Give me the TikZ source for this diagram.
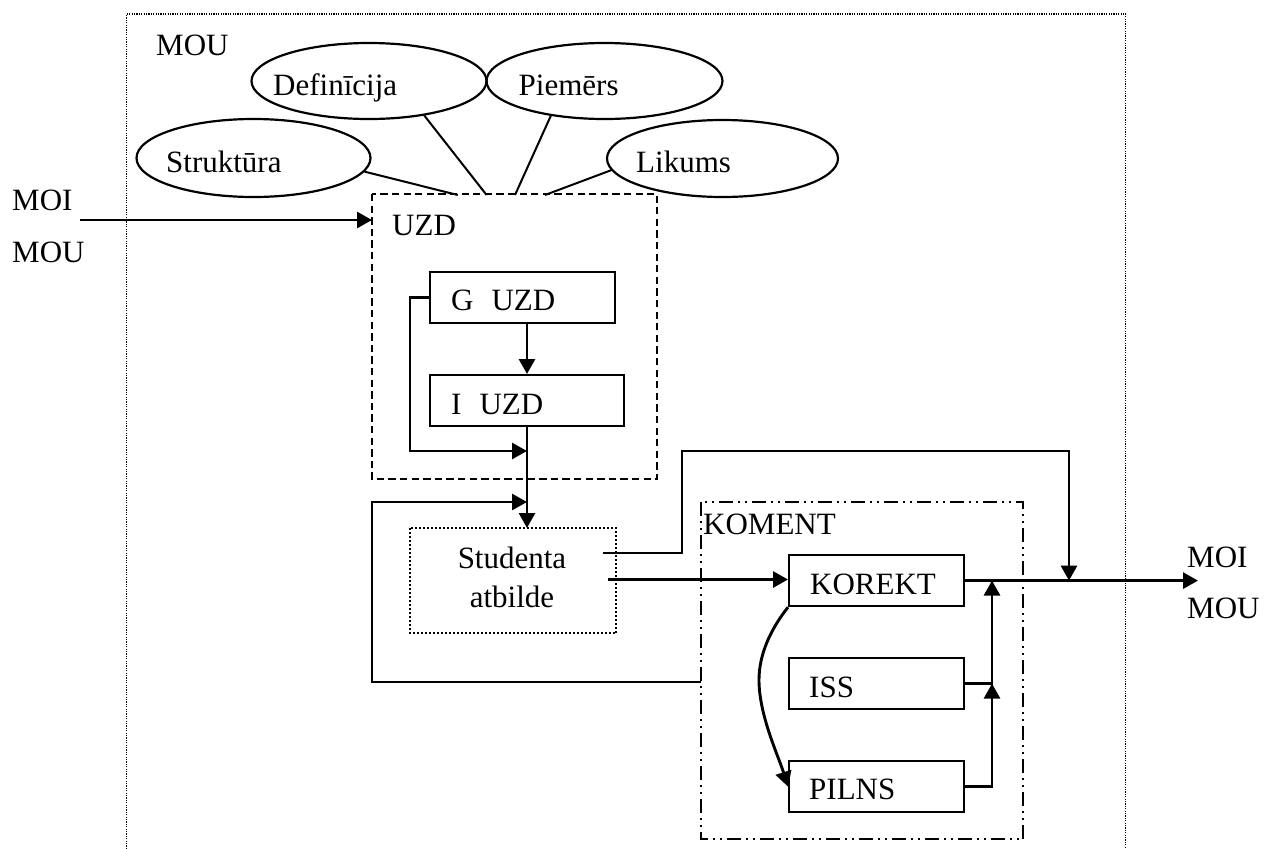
\documentclass[tikz,border=0pt]{standalone}
\usepackage{fontspec}
\setmainfont{Liberation Serif}
\usetikzlibrary{arrows.meta,shapes.geometric,calc}

\begin{document}
\begin{tikzpicture}[x=1pt,y=-1pt,
  txt/.style={anchor=base west, inner sep=0pt, font=\fontsize{31}{36}\selectfont},
  ctxt/.style={anchor=base, inner sep=0pt, font=\fontsize{31}{36}\selectfont},
  box/.style={draw, line width=2.2pt, rectangle, anchor=north west, inner sep=0pt},
  ell/.style={draw, line width=2.2pt, ellipse, inner sep=0pt},
  conn/.style={line width=2.9pt, line join=miter},
  arr/.style={conn, -{Triangle[length=15pt,width=16pt]}},
  link/.style={line width=2pt},
  dotframe/.style={line width=1.5pt, dash pattern=on 1.2pt off 1.2pt},
  uzdframe/.style={line width=2.2pt, dash pattern=on 7.3pt off 4.3pt},
  komframe/.style={line width=2.2pt, dash pattern=on 14pt off 5pt on 2pt off 5pt on 2pt off 5pt},
  studframe/.style={line width=2.2pt, dash pattern=on 2pt off 2pt},
]
\useasboundingbox (0,0) rectangle (1270,849);

% outer frame (open at the bottom)
\draw[dotframe] (126.7,849) -- (126.7,14) -- (1125.5,14) -- (1125.5,849);
\node[txt] (mou0) at (156,55) {MOU};

% concept ellipses
\node[ell, minimum width=235pt, minimum height=76pt] (def) at (369,81) {};
\node[ell, minimum width=236pt, minimum height=76pt] (pie) at (604.5,81) {};
\node[ell, minimum width=234pt, minimum height=78pt] (str) at (253.5,158) {};
\node[ell, minimum width=231pt, minimum height=77pt] (lik) at (722.5,158.5) {};
\node[txt] (def-t) at (273,95) {Definīcija};
\node[txt] (pie-t) at (518.5,95) {Piemērs};
\node[txt] (str-t) at (166,172) {Struktūra};
\node[txt] (lik-t) at (636,172) {Likums};

% task block
\node[box, draw=none, minimum width=283pt, minimum height=283pt] (uzd) at (372,194) {};
\draw[uzdframe] (uzd.north west) rectangle (uzd.south east);
\node[txt] (uzd-t) at (392,235) {UZD};

\coordinate (c1) at (457.8,195);
\coordinate (c2) at (486.6,195);
\coordinate (c3) at (515,195);
\coordinate (c4) at (545,195);
\draw[link] (str.-7) -- (c1);
\draw[link] (def.-32) -- (c2);
\draw[link] (pie.-147) -- (c3);
\draw[link] (lik.186) -- (c4);

\node[box, minimum width=185pt, minimum height=51pt] (gz) at (429,271) {};
\node[txt] (gz-t) at (451,310) {G\hspace{18pt}UZD};
\node[box, minimum width=194pt, minimum height=51pt] (iz) at (429,374) {};
\node[txt] (iz-t) at (451,414) {I\hspace{18pt}UZD};

% student answer
\node[box, draw=none, minimum width=204pt, minimum height=103pt] (stud) at (410,528) {};
\draw[studframe] (stud.north west) rectangle (stud.south east);
\node[ctxt] (stud-t1) at (512,568) {Studenta};
\node[ctxt] (stud-t2) at (512,607) {atbilde};

% comment block
\node[box, draw=none, minimum width=320pt, minimum height=335pt] (kom) at (701,502) {};
\draw[komframe] (kom.north west) rectangle (kom.south east);
\node[txt] (kom-t) at (703,534) {KOMENT};
\node[box, minimum width=175pt, minimum height=51pt] (kor) at (788,554) {};
\node[txt] (kor-t) at (810,594) {KOREKT};
\node[box, minimum width=175pt, minimum height=51pt] (iss) at (788,657) {};
\node[txt] (iss-t) at (809,697) {ISS};
\node[box, minimum width=175pt, minimum height=51pt] (pil) at (788,760) {};
\node[txt] (pil-t) at (809,799) {PILNS};

% inputs / outputs
\node[txt] (moiL) at (12,210) {MOI};
\node[txt] (mouL) at (12,262) {MOU};
\node[txt] (moiR) at (1187,567) {MOI};
\node[txt] (mouR) at (1187,618) {MOU};

% connectors
\coordinate (ax) at (527,0);
\coordinate (inL) at (80,220);
\draw[arr] (inL) -- (inL -| uzd.west);
\draw[arr] (gz.south -| ax) -- (iz.north -| ax);
\draw[arr] (iz.south -| ax) -- (stud.north -| ax);
\coordinate (byp) at (410,451);
\draw[arr] (gz.west) -| (byp) -- (byp -| ax);
\coordinate (retlow) at (372,682);
\coordinate (ret) at (372,502);
\draw[arr] (retlow -| kom.west) -- (retlow) -- (ret) -- (ret -| ax);

\coordinate (s1) at (603,553);
\coordinate (bend) at (682,451);
\coordinate (drop) at (1069,451);
\coordinate (outtip) at (1198,580);
\draw[arr] (s1) -- (s1 -| bend) -- (bend) -- (drop) -- (drop |- kor.east);
\coordinate (s2) at (608,579.5);
\draw[arr] (s2) -- (s2 -| kor.west);
\draw[arr] (kor.east) -- (kor.east -| outtip);

\coordinate (col) at (992,0);
\draw[arr] (pil.east) -- (pil.east -| col) -- (iss.east -| col);
\draw[arr] (iss.east) -- (iss.east -| col) -- (kor.east -| col);

\draw[arr] (kor.south west) .. controls (770,630) and (759,655) .. (759,680)
  .. controls (759,715) and (778,755) .. (pil.west);
\end{tikzpicture}
\end{document}
